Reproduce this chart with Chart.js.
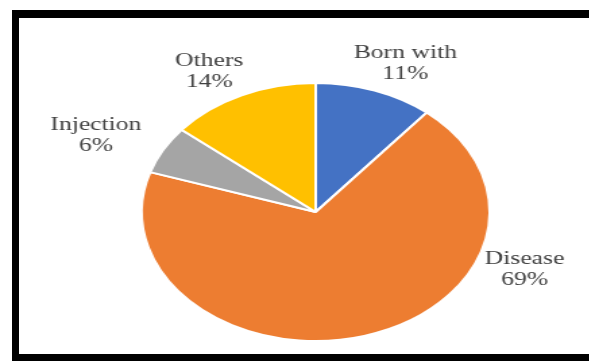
<!DOCTYPE html>
<html>
<head>
<meta charset="utf-8">
<script src="https://cdn.jsdelivr.net/npm/chart.js@4.4.0/dist/chart.umd.min.js"></script>
<style>
  html, body { margin: 0; padding: 0; background: #fff; }
  body { width: 589px; height: 361px; position: relative; overflow: hidden; }
  #frame {
    position: absolute; left: 12px; top: 10px; right: 0; bottom: 0;
    border-top: 8px solid #000; border-left: 7px solid #000; border-bottom: 7px solid #000;
  }
  #wrap {
    position: absolute; left: 0; top: 0; width: 437.6px; height: 361px;
    transform: scaleX(1.346); transform-origin: 0 0;
  }
</style>
</head>
<body>
<div id="frame"></div>
<div id="wrap"><canvas id="pie"></canvas></div>
<script>
const categories = ['Born with', 'Disease', 'Injection', 'Others'];
const shares = [11, 69, 6, 14];
const shareLabels = ['11%', '69%', '6%', '14%'];
const sliceColors = ['#4472C4', '#ED7D31', '#A5A5A5', '#FFC000'];

// where each label sits, relative to the pie centre, in outer radii
const labelOffsets = [[0.515, -1.15], [1.2, 0.446], [-1.263, -0.596], [-0.611, -1.088]];

const pieLabels = {
  id: 'pieLabels',
  afterDatasetsDraw(chart) {
    const ctx = chart.ctx;
    const arcs = chart.getDatasetMeta(0).data;
    ctx.save();
    ctx.font = '19px "Liberation Serif", "Times New Roman", serif';
    ctx.fillStyle = '#404040';
    ctx.textAlign = 'center';
    ctx.textBaseline = 'middle';
    arcs.forEach((arc, i) => {
      const p = arc.getProps(['x', 'y', 'outerRadius'], true);
      const x = p.x + labelOffsets[i][0] * p.outerRadius;
      const y = p.y + labelOffsets[i][1] * p.outerRadius;
      ctx.fillText(categories[i], x, y - 10.5);
      ctx.fillText(shareLabels[i], x, y + 10.5);
    });
    ctx.restore();
  }
};

let ctxPie = document.getElementById('pie').getContext('2d');

let graphPie = new Chart(ctxPie, {
  type: 'pie',
  data: {
    labels: categories,
    datasets: [{
      data: shares,
      backgroundColor: sliceColors,
      borderColor: '#ffffff',
      borderWidth: 2,
      hoverOffset: 0,
      offset: 0
    }]
  },
  options: {
    responsive: true,
    maintainAspectRatio: false,
    animation: false,
    layout: {
      padding: { left: 104, top: 82, right: 73.6, bottom: 19 }
    },
    plugins: {
      legend: { display: false },
      tooltip: { enabled: false }
    }
  },
  plugins: [pieLabels]
});
</script>
</body>
</html>
